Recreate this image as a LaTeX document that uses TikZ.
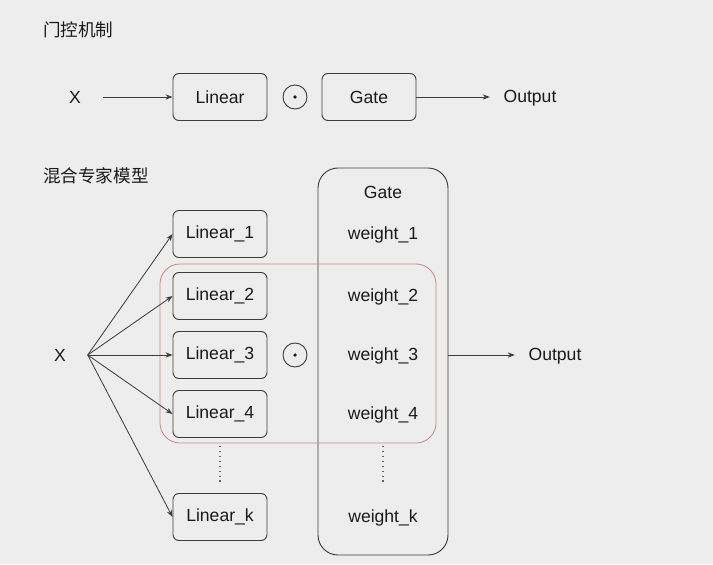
\documentclass[tikz,border=0pt]{standalone}
\usepackage{fontspec}
\setmainfont{Liberation Sans}
\newfontfamily\cjk{Noto Sans CJK SC}
\usetikzlibrary{arrows.meta}
\definecolor{bg}{HTML}{EDEDED}
\definecolor{ink}{HTML}{3C3C3C}
\definecolor{txt}{HTML}{1A1A1A}
\definecolor{rose}{HTML}{CD8585}
\tikzstyle{arrow} = [draw=ink, line width=0.7pt, -{Stealth[length=6pt,width=4.5pt]}]
\tikzstyle{box} = [draw=ink, line width=0.8pt, rounded corners=0.18cm,
  minimum width=2.82cm, minimum height=1.41cm, inner sep=2pt, align=center]
\tikzstyle{lbl} = [minimum width=1.65cm, inner sep=0pt]
\tikzstyle{outlbl} = [minimum width=2.4cm, inner sep=0pt]
\tikzstyle{odot} = [circle, draw=ink, line width=0.8pt, minimum size=0.72cm,
  inner sep=0pt, path picture={\fill[txt] (path picture bounding box.center) circle (1.5pt);}]
\tikzstyle{title} = [anchor=west, inner sep=0pt, font=\cjk\fontsize{15}{18}\selectfont]
\tikzstyle{dotline} = [draw=ink!80, line width=0.9pt, dash pattern=on 1.2pt off 3pt,
  shorten <=0.24cm, shorten >=0.24cm]

\begin{document}
\begin{tikzpicture}[x=0.03cm, y=-0.03cm,
    every node/.style={font=\fontsize{15}{18}\selectfont, text=txt}]
    \fill[bg] (0,0) rectangle (713,564);
    \useasboundingbox (0,0) rectangle (713,564);

    % gating
    \node[title] (t1) at (43,30) {门控机制};
    \node[lbl] (x1) at (75,97) {X};
    \node[box] (lin) at (220,97) {Linear};
    \node[odot] (m1) at (295,97) {};
    \node[box] (gate) at (369,97) {Gate};
    \node[outlbl] (out1) at (530,98) {Output};
    \draw[arrow] (x1) -- (lin);
    \draw[arrow] (gate) -- (out1.west |- gate);

    % mixture of experts
    \node[title] (t2) at (43,176) {混合专家模型};
    \node[draw=ink, line width=0.8pt, rounded corners=0.6cm, minimum width=3.9cm,
        minimum height=11.61cm] (gbox) at (383,361.5) {};
    \node (gtitle) at (383,192) {Gate};
    \node[lbl] (x2) at (60,355) {X};
    \node[box] (l1) at (220,234) {Linear\_1};
    \node[box] (l2) at (220,296) {Linear\_2};
    \node[box] (l3) at (220,355) {Linear\_3};
    \node[box] (l4) at (220,414) {Linear\_4};
    \node[box] (lk) at (220,517) {Linear\_k};
    \node (w1) at (383,235) {weight\_1};
    \node (w2) at (383,297) {weight\_2};
    \node (w3) at (383,356) {weight\_3};
    \node (w4) at (383,415) {weight\_4};
    \node (wk) at (383,518) {weight\_k};
    \node[odot] (m2) at (295,355) {};
    \node[outlbl] (out2) at (555,356) {Output};
    \draw[draw=rose, line width=0.7pt, rounded corners=0.6cm] (160,264) rectangle (436,443);
    \foreach \n in {l1,l2,l3,l4,lk}
        \draw[arrow] (x2.east) -- (\n.west);
    \draw[arrow] (gbox.east |- m2) -- (out2.west |- m2);
    \draw[dotline] (l4.south) -- (lk.north);
    \draw[dotline] (l4.south -| wk) -- (lk.north -| wk);
\end{tikzpicture}
\end{document}
